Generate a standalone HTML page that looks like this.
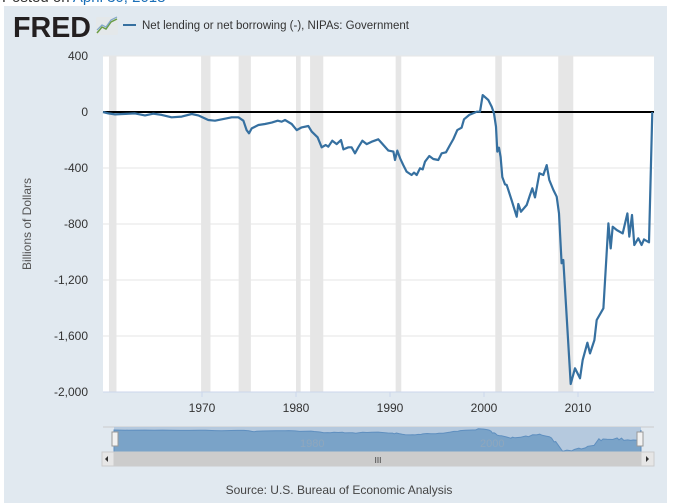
<!DOCTYPE html>
<html><head><meta charset="utf-8">
<style>
html,body{margin:0;padding:0;background:#fff;}
body{width:682px;height:503px;position:relative;overflow:hidden;font-family:"Liberation Sans",sans-serif;}
</style></head>
<body>
<div style="position:absolute;left:2px;top:-11px;font-size:15px;color:#333;">Posted on <span style="color:#1a6fb8">April 30, 2018</span></div>
<div style="position:absolute;left:4px;top:6px;width:663px;height:497px;background:#e1e9f0;"></div>
<svg id="chart" width="682" height="503" style="position:absolute;left:0;top:0" xmlns="http://www.w3.org/2000/svg">
<g>
<text x="13" y="37" font-family="Liberation Sans" font-weight="bold" font-size="29" fill="#231f20" textLength="78" lengthAdjust="spacingAndGlyphs">FRED</text>
<rect x="96" y="17" width="22" height="18" fill="#e4e8ea" rx="2"/>
<polyline points="97,33 102,27 106,29 111,22 117,19" fill="none" stroke="#6a9d45" stroke-width="1.5"/>
<polyline points="97,30 102,25 106,27 111,20 117,17" fill="none" stroke="#7fa6c9" stroke-width="1.2"/>
</g>
<g>
<line x1="123" y1="25" x2="136" y2="25" stroke="#3670a0" stroke-width="2"/>
<text x="142" y="29" font-size="11.5" fill="#333">Net lending or net borrowing (-), NIPAs: Government</text>
</g>
<rect x="103" y="56" width="551" height="336" fill="#fff"/>
<g id="rec"></g>
<g id="grid"></g>
<g id="yt"></g>
<g id="xt"></g>
<line x1="103" y1="112" x2="654" y2="112" stroke="#000" stroke-width="2"/>
<path id="line" fill="none" stroke="#3670a0" stroke-width="2.2" stroke-linejoin="round"/>
<line x1="103" y1="392" x2="654" y2="392" stroke="#ccd6eb" stroke-width="1"/>
<text transform="translate(31,224) rotate(-90)" text-anchor="middle" font-size="12" fill="#555">Billions of Dollars</text>
<g>
<line x1="103" y1="427" x2="654" y2="427" stroke="#ccc"/>
<rect x="114" y="427" width="527" height="25" fill="#b5c9de"/>
<path id="navarea" fill="#7aa3c8" stroke="#5f8fbf" stroke-width="1"/>
<text x="300" y="447" font-size="11" fill="#8fa7bd">1980</text>
<text x="480" y="447" font-size="11" fill="#8fa7bd">2000</text>
<rect x="112" y="432" width="6" height="14" fill="#f2f2f2" stroke="#999"/>
<rect x="637" y="432" width="6" height="14" fill="#f2f2f2" stroke="#999"/>
</g>
<g>
<rect x="102" y="452" width="552" height="14" fill="#ccc" stroke="#ccc"/>
<rect x="102" y="452" width="12" height="14" fill="#e6e6e6" stroke="#ccc"/>
<rect x="641" y="452" width="13" height="14" fill="#e6e6e6" stroke="#ccc"/>
<path d="M108,456 L105,459 L108,462Z" fill="#333"/>
<path d="M646,456 L649,459 L646,462Z" fill="#333"/>
<text x="378" y="463" text-anchor="middle" font-size="8" fill="#333">III</text>
</g>
<text x="339" y="494" text-anchor="middle" font-size="12" fill="#444">Source: U.S. Bureau of Economic Analysis</text>
</svg>
<script>
const years=[1959.47,1960.04,1960.74,1962.87,1963.94,1964.82,1965.71,1966.77,1967.84,1968.9,1969.61,1970.67,1971.38,1972.45,1973.16,1973.87,1974.4,1974.75,1975.0,1975.29,1976.0,1976.7,1977.41,1978.05,1978.48,1978.83,1979.54,1980.07,1980.6,1981.31,1981.67,1982.3,1982.73,1983.16,1983.44,1983.86,1984.33,1984.79,1985.04,1985.57,1985.92,1986.28,1986.63,1987.06,1987.52,1988.05,1988.76,1989.83,1990.36,1990.53,1990.78,1991.07,1991.42,1991.77,1992.3,1992.55,1992.84,1993.19,1993.48,1993.72,1994.18,1994.61,1995.14,1995.5,1995.96,1996.38,1996.74,1997.16,1997.62,1997.87,1998.44,1999.22,1999.57,1999.86,2000.46,2000.82,2001.06,2001.28,2001.42,2001.6,2001.77,2001.95,2002.23,2002.41,2002.94,2003.48,2003.65,2003.94,2004.54,2004.89,2005.14,2005.43,2005.89,2006.31,2006.67,2006.95,2007.38,2007.73,2007.98,2008.26,2008.44,2009.22,2009.68,2010.21,2010.5,2011.0,2011.28,2011.74,2011.99,2012.7,2013.23,2013.48,2013.69,2014.12,2014.76,2015.25,2015.46,2015.74,2015.99,2016.42,2016.77,2017.02,2017.55,2017.9];
const values=[0,-10,-17,-10,-24,-12,-21,-38,-33,-14,-24,-57,-62,-48,-38,-38,-62,-129,-152,-117,-93,-86,-76,-62,-69,-57,-86,-129,-110,-100,-140,-181,-252,-236,-248,-205,-229,-200,-267,-252,-252,-295,-252,-205,-229,-212,-195,-276,-283,-343,-276,-331,-379,-426,-450,-433,-450,-402,-410,-355,-314,-336,-343,-295,-288,-236,-193,-129,-112,-52,-21,2,2,121,86,38,-10,-105,-283,-255,-321,-464,-517,-521,-629,-748,-657,-712,-664,-593,-545,-610,-438,-450,-379,-486,-557,-605,-724,-1081,-1057,-1943,-1831,-1902,-1771,-1648,-1724,-1629,-1486,-1402,-795,-974,-819,-843,-867,-724,-890,-736,-950,-902,-950,-910,-931,0];
const yTicks=[400,0,-400,-800,-1200,-1600,-2000];
const yTickLabels=["400","0","-400","-800","-1,200","-1,600","-2,000"];
const xTicks=[1970,1980,1990,2000,2010];
const recStarts=[1960.1,1969.9,1973.9,1980.0,1981.5,1990.6,2001.2,2007.9];
const recEnds=[1960.9,1970.9,1975.2,1980.5,1982.9,1991.2,2001.9,2009.5];
const NS='http://www.w3.org/2000/svg';
const X=y=>484+(y-2000)*9.4;
const Y=v=>112-v*0.14;
const NX=y=>114+(y-1959.47)*(527/(2017.9-1959.47));
const NY=v=>430-v*0.011;
function mk(tag,attrs,parent){const e=document.createElementNS(NS,tag);for(const k in attrs)e.setAttribute(k,attrs[k]);document.getElementById(parent).appendChild(e);return e;}
recStarts.forEach((s,i)=>{const r=mk('rect',{x:X(s),y:56,width:X(recEnds[i])-X(s),height:336,fill:'#e6e6e6'},'rec');

});
yTicks.forEach((v,i)=>{if(v!==0){const l=mk('line',{x1:103,x2:654,y1:Y(v),y2:Y(v),stroke:'#e6e6e6'},'grid');

}
const t=mk('text',{x:88,y:Y(v)+4,'text-anchor':'end','font-size':'12',fill:'#333'},'yt');t.textContent=yTickLabels[i];

});
xTicks.forEach(y=>{const t=mk('text',{x:X(y),y:412,'text-anchor':'middle','font-size':'12',fill:'#333'},'xt');t.textContent=y;


mk('line',{x1:X(y),x2:X(y),y1:392,y2:397,stroke:'#ccd6eb'},'xt');});
let d='';years.forEach((y,i)=>{d+=(i?'L':'M')+X(y).toFixed(1)+','+Y(values[i]).toFixed(1);});
document.getElementById('line').setAttribute('d',d);
let nd='M114,452';years.forEach((y,i)=>{nd+='L'+NX(y).toFixed(1)+','+NY(values[i]).toFixed(1);});nd+='L641,452Z';
document.getElementById('navarea').setAttribute('d',nd);
</script>
</body></html>
